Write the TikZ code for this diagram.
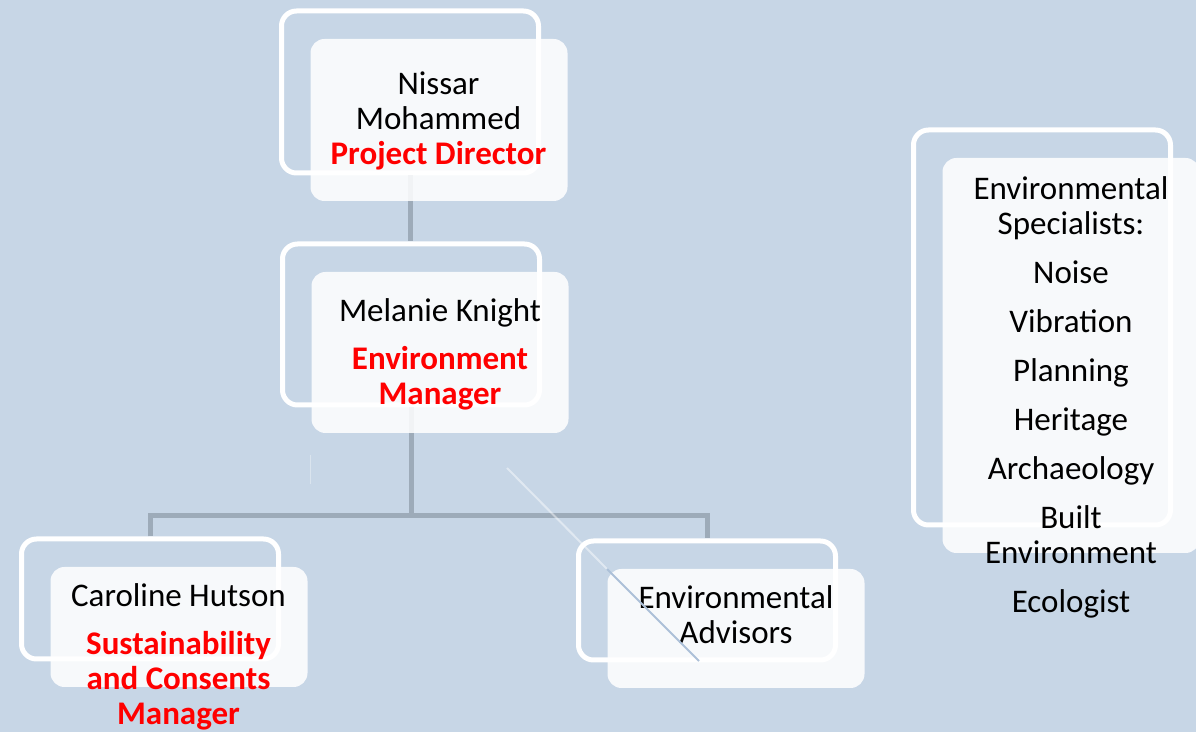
\documentclass[tikz,border=0pt]{standalone}
\usepackage{fontspec}
\setmainfont{Carlito}
\usepackage{tikz}
\usetikzlibrary{positioning}
\definecolor{bgblue}{RGB}{199,214,230}
\definecolor{linkgray}{RGB}{157,171,185}
\definecolor{titlered}{RGB}{255,0,0}
\definecolor{strayblue}{RGB}{172,192,216}
\tikzset{backframe/.style={draw=white, line width=2.5pt, rounded corners=7.5pt, minimum width=128.5pt, inner sep=0pt},
    card/.style={fill=white, fill opacity=.86, rounded corners=7pt, minimum width=128.5pt, inner sep=0pt},
    cardtext/.style={align=center, inner sep=0pt, anchor=north, font=\fontsize{16.5pt}{17.5pt}\selectfont, execute at begin node=\rule{0pt}{12pt}},
    link/.style={draw=linkgray, line width=2.5pt}}
\newcommand{\roletext}[1]{{\color{titlered}\bfseries #1}}

\begin{document}
\begin{tikzpicture}[x=0.5pt,y=-0.5pt]
                 \useasboundingbox (0,0) rectangle (1196,732);
                 \clip (0,0) rectangle (1196,732);
                 \fill[bgblue] (0,0) rectangle (1196,732);
                 % frames behind the cards
                 \node[backframe, minimum height=81pt] (pdframe) at (410,92) {};
                 \node[backframe, minimum height=80.5pt] (emframe) at (411,324.5) {};
                 \node[backframe, minimum height=60pt] (chframe) at (150,599) {};
                 \node[backframe, minimum height=59.5pt] (eaframe) at (707,600.5) {};
                 \node[backframe, minimum height=197.5pt] (esframe) at (1042,327.5) {};
                 % connectors
                 \path (emframe.south) ++(0,108) coordinate (bus);
                 \draw[link] (pdframe.south) -- (pdframe.south |- emframe.north);
                 \draw[link] (emframe.south) -- (bus);
                 \draw[link] (chframe.north) |- (bus) -| (eaframe.north);
                 % cards
                 \node[card, minimum height=81pt] (pd) at ([shift={(29,28)}]pdframe.center) {};
                 \node[card, minimum height=80.5pt] (em) at ([shift={(29,28)}]emframe.center) {};
                 \node[card, minimum height=60pt] (ch) at ([shift={(29,28)}]chframe.center) {};
                 \node[card, minimum height=59.5pt] (ea) at ([shift={(29,28)}]eaframe.center) {};
                 \node[card, minimum height=197.5pt] (es) at ([shift={(29,28)}]esframe.center) {};
                 % texts
                 \node[cardtext] (pdtext) at (438.5,71) {Nissar\\Mohammed\\\roletext{Project Director}};
                 \node[cardtext] (emtext) at (440,298) {Melanie Knight\\[6.5pt]\roletext{Environment}\\\roletext{Manager}};
                 \node[cardtext] (chtext) at (178.5,583) {Caroline Hutson\\[6.5pt]\roletext{Sustainability}\\\roletext{and Consents}\\\roletext{Manager}};
                 \node[cardtext] (eatext) at (736,585) {Environmental\\Advisors};
                 \node[cardtext] (estext) at (1071,176) {Environmental\\Specialists:\\[7pt]Noise\\[7pt]Vibration\\[7pt]Planning\\[7pt]Heritage\\[7pt]Archaeology\\[7pt]Built\\Environment\\[7pt]Ecologist};
                 % stray strokes
                 \draw[white, opacity=.35, line width=.5pt] (310,455) -- (310,484);
                 \draw[white, opacity=.45, line width=1pt] (507,468) -- (607,569);
                 \draw[strayblue, line width=1pt] (607,569) -- (699,661);
             \end{tikzpicture}
\end{document}
